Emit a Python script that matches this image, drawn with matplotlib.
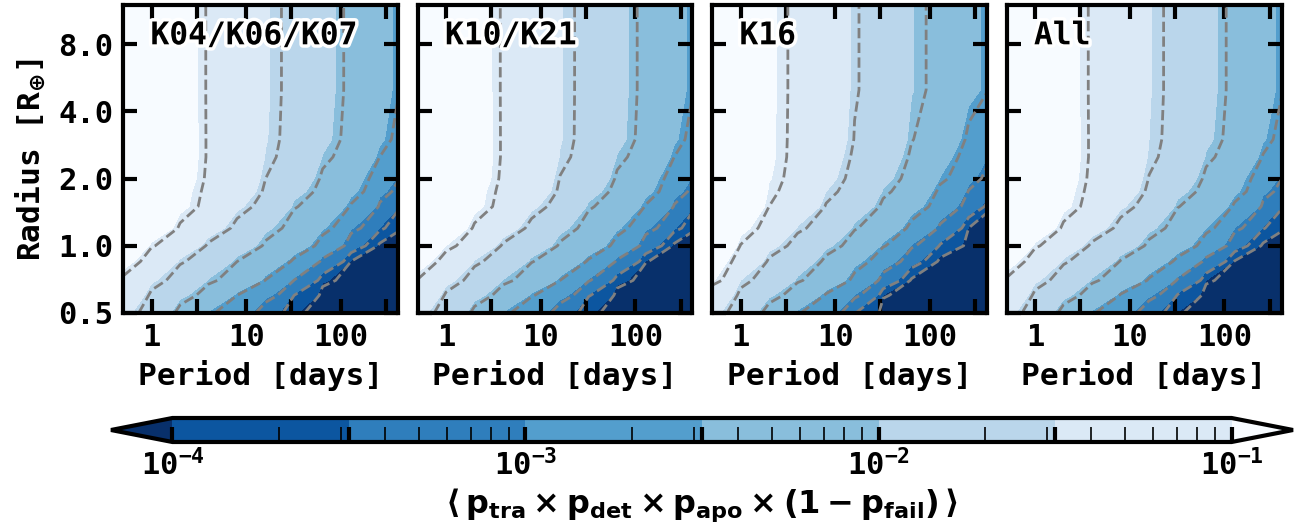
import numpy as np
import matplotlib
matplotlib.use('Agg')
import matplotlib.pyplot as plt
import matplotlib.patheffects as pe
from matplotlib.colors import LogNorm, ListedColormap
from matplotlib.ticker import FixedLocator, FixedFormatter, LogLocator, NullLocator, NullFormatter

plt.rcParams['font.family'] = ['DejaVu Sans Mono']
plt.rcParams['font.weight'] = 'bold'
plt.rcParams['axes.labelweight'] = 'bold'
plt.rcParams['axes.linewidth'] = 3

# ---------------------------
#   data (log10 of the mean detection probability)
# ---------------------------
periods = [0.5, 1, 2, 4, 8, 16, 32, 64, 128, 256, 500]        # days
radii = [0.5, 0.6, 0.7, 0.85, 1.0, 1.2, 1.5, 1.75, 2.0, 2.5, 3.0, 5.0, 12.0]  # R_earth

grid_k04 = [
    [-1.43, -1.82, -2.19, -2.53, -2.86, -3.35, -3.97, -4.50, -4.80, -5.00, -5.20],
    [-1.31, -1.63, -1.95, -2.25, -2.57, -2.94, -3.57, -4.30, -4.60, -4.90, -5.00],
    [-1.12, -1.47, -1.75, -2.02, -2.28, -2.58, -3.08, -3.95, -4.40, -4.70, -5.00],
    [-0.92, -1.27, -1.54, -1.81, -2.07, -2.32, -2.64, -3.20, -4.10, -4.50, -4.80],
    [-0.75, -1.05, -1.34, -1.62, -1.87, -2.12, -2.36, -2.74, -3.37, -4.30, -4.60],
    [-0.55, -0.83, -1.11, -1.39, -1.67, -1.96, -2.22, -2.48, -2.98, -3.51, -4.40],
    [-0.50, -0.70, -0.95, -1.20, -1.46, -1.75, -2.05, -2.30, -2.60, -3.13, -4.10],
    [-0.50, -0.72, -0.94, -1.15, -1.37, -1.62, -1.93, -2.19, -2.45, -2.93, -3.55],
    [-0.52, -0.69, -0.91, -1.12, -1.34, -1.57, -1.85, -2.12, -2.39, -2.81, -3.32],
    [-0.52, -0.70, -0.90, -1.10, -1.31, -1.51, -1.76, -2.01, -2.27, -2.57, -3.07],
    [-0.52, -0.71, -0.90, -1.10, -1.29, -1.49, -1.72, -1.95, -2.20, -2.46, -2.91],
    [-0.52, -0.72, -0.91, -1.10, -1.29, -1.48, -1.70, -1.93, -2.16, -2.42, -2.68],
    [-0.52, -0.72, -0.91, -1.10, -1.29, -1.48, -1.70, -1.93, -2.16, -2.42, -2.68],
]

grid_k10 = [
    [-1.42, -1.80, -2.17, -2.52, -2.85, -3.33, -3.95, -4.50, -4.80, -5.00, -5.20],
    [-1.28, -1.61, -1.93, -2.24, -2.55, -2.92, -3.55, -4.30, -4.60, -4.90, -5.00],
    [-1.08, -1.44, -1.73, -2.01, -2.27, -2.57, -3.05, -3.90, -4.40, -4.70, -5.00],
    [-0.90, -1.22, -1.52, -1.80, -2.06, -2.31, -2.62, -3.15, -4.05, -4.50, -4.80],
    [-0.72, -1.00, -1.32, -1.61, -1.86, -2.11, -2.35, -2.72, -3.33, -4.30, -4.60],
    [-0.55, -0.83, -1.11, -1.39, -1.67, -1.95, -2.21, -2.47, -2.96, -3.48, -4.40],
    [-0.50, -0.70, -0.95, -1.20, -1.46, -1.75, -2.04, -2.29, -2.59, -3.10, -4.10],
    [-0.50, -0.72, -0.94, -1.15, -1.37, -1.62, -1.92, -2.18, -2.44, -2.91, -3.52],
    [-0.52, -0.69, -0.91, -1.12, -1.34, -1.58, -1.84, -2.11, -2.38, -2.80, -3.30],
    [-0.52, -0.70, -0.90, -1.10, -1.31, -1.51, -1.76, -2.01, -2.27, -2.57, -3.07],
    [-0.52, -0.71, -0.90, -1.10, -1.29, -1.49, -1.72, -1.95, -2.20, -2.47, -2.92],
    [-0.52, -0.72, -0.91, -1.10, -1.29, -1.49, -1.71, -1.94, -2.17, -2.42, -2.69],
    [-0.52, -0.72, -0.91, -1.10, -1.29, -1.49, -1.71, -1.94, -2.17, -2.42, -2.69],
]

grid_k16 = [
    [-1.43, -1.86, -2.22, -2.55, -2.88, -3.56, -4.40, -4.70, -5.00, -5.20, -5.30],
    [-1.31, -1.64, -1.97, -2.28, -2.61, -3.01, -4.02, -4.50, -4.80, -5.00, -5.20],
    [-0.98, -1.50, -1.77, -2.04, -2.32, -2.68, -3.29, -4.26, -4.60, -4.90, -5.10],
    [-0.86, -1.28, -1.62, -1.87, -2.15, -2.44, -2.86, -3.41, -4.40, -4.70, -5.00],
    [-0.73, -1.08, -1.44, -1.71, -1.96, -2.24, -2.55, -3.03, -3.63, -4.40, -4.80],
    [-0.65, -0.94, -1.23, -1.52, -1.78, -2.05, -2.33, -2.68, -3.16, -4.08, -4.60],
    [-0.55, -0.81, -1.07, -1.33, -1.59, -1.86, -2.13, -2.41, -2.80, -3.32, -4.30],
    [-0.53, -0.77, -1.02, -1.26, -1.50, -1.76, -2.02, -2.31, -2.65, -3.09, -3.82],
    [-0.53, -0.76, -0.99, -1.21, -1.44, -1.69, -1.94, -2.22, -2.51, -2.93, -3.50],
    [-0.55, -0.76, -0.97, -1.18, -1.40, -1.62, -1.87, -2.12, -2.40, -2.78, -3.22],
    [-0.58, -0.78, -0.97, -1.17, -1.37, -1.58, -1.82, -2.06, -2.32, -2.64, -3.12],
    [-0.59, -0.78, -0.97, -1.16, -1.35, -1.55, -1.77, -1.99, -2.21, -2.43, -2.67],
    [-0.59, -0.78, -0.97, -1.16, -1.35, -1.55, -1.77, -1.99, -2.21, -2.43, -2.67],
]

grid_all = [
    [-1.43, -1.83, -2.20, -2.55, -2.89, -3.40, -4.02, -4.55, -4.85, -5.05, -5.25],
    [-1.30, -1.63, -1.95, -2.26, -2.60, -2.97, -3.62, -4.35, -4.65, -4.95, -5.05],
    [-1.10, -1.47, -1.75, -2.03, -2.31, -2.61, -3.12, -4.00, -4.45, -4.75, -5.05],
    [-0.91, -1.26, -1.54, -1.82, -2.09, -2.34, -2.67, -3.24, -4.15, -4.55, -4.85],
    [-0.74, -1.04, -1.35, -1.63, -1.88, -2.14, -2.38, -2.77, -3.40, -4.30, -4.60],
    [-0.56, -0.84, -1.12, -1.40, -1.68, -1.96, -2.23, -2.50, -3.00, -3.55, -4.40],
    [-0.51, -0.71, -0.96, -1.21, -1.47, -1.76, -2.06, -2.31, -2.62, -3.16, -4.10],
    [-0.51, -0.72, -0.94, -1.16, -1.38, -1.63, -1.94, -2.20, -2.46, -2.95, -3.58],
    [-0.52, -0.70, -0.92, -1.13, -1.35, -1.58, -1.86, -2.13, -2.41, -2.83, -3.35],
    [-0.53, -0.71, -0.91, -1.11, -1.32, -1.52, -1.77, -2.02, -2.28, -2.59, -3.09],
    [-0.53, -0.72, -0.91, -1.11, -1.30, -1.50, -1.73, -1.96, -2.22, -2.48, -2.93],
    [-0.53, -0.73, -0.92, -1.11, -1.30, -1.49, -1.71, -1.94, -2.17, -2.42, -2.68],
    [-0.53, -0.73, -0.92, -1.11, -1.30, -1.49, -1.71, -1.94, -2.17, -2.42, -2.68],
]

panel_names = ['K04/K06/K07', 'K10/K21', 'K16', 'All']
panel_grids = [grid_k04, grid_k10, grid_k16, grid_all]

fill_exponents = [-4.0, -3.5, -3.0, -2.5, -2.0, -1.5, -1.0]
dash_exponents = [-4.07, -3.57, -3.07, -2.57, -2.07, -1.57, -1.07]

band_colors = ['#0c56a0', '#2f7ebc', '#539ecd', '#89bedc', '#bad6eb', '#dbe9f6']
under_color = '#08306b'
over_color = '#f7fbff'

xticks = [1, 3, 10, 30, 100, 300]
xticklabels = ['1', '', '10', '', '100', '']
yticks = [0.5, 1, 2, 4, 8]
yticklabels = ['0.5', '1.0', '2.0', '4.0', '8.0']

cbar_ticklabels = [r'$\mathdefault{10^{-4}}$', '', r'$\mathdefault{10^{-3}}$', '',
                   r'$\mathdefault{10^{-2}}$', '', r'$\mathdefault{10^{-1}}$']

# ---------------------------
#   figure
# ---------------------------
W, H = 1303, 529
fig = plt.figure(figsize=(W / 100, H / 100), dpi=100)

levels = 10.0 ** np.array(fill_exponents)
dash_levels = 10.0 ** np.array(dash_exponents)
norm = LogNorm(vmin=levels[0], vmax=levels[-1])
cmap = ListedColormap(band_colors)
cmap.set_under(under_color)
cmap.set_over(over_color)

P, R = np.meshgrid(periods, radii)
panel_left = [123, 417.5, 712, 1006.5]

for i, (name, grid) in enumerate(zip(panel_names, panel_grids)):
    ax = fig.add_axes([panel_left[i] / W, 1 - 313 / H, 275 / W, 308 / H])
    Z = 10.0 ** np.array(grid)
    cf = ax.contourf(P, R, Z, levels=levels, norm=norm, cmap=cmap, extend='both')
    ax.contour(P, R, Z, levels=dash_levels, colors='gray', linestyles='--', linewidths=2)

    ax.set_xscale('log')
    ax.set_yscale('log')
    ax.set_xlim(0.5, 400)
    ax.set_ylim(0.5, 12)

    ax.xaxis.set_major_locator(FixedLocator(xticks))
    ax.xaxis.set_major_formatter(FixedFormatter(xticklabels))
    ax.xaxis.set_minor_locator(NullLocator())
    ax.yaxis.set_major_locator(FixedLocator(yticks))
    ax.yaxis.set_major_formatter(FixedFormatter(yticklabels))
    ax.yaxis.set_minor_locator(NullLocator())
    ax.tick_params(which='major', direction='in', length=10, width=3,
                   top=True, right=True, labelsize=22, pad=7)
    if i > 0:
        ax.set_yticklabels([])
    else:
        ax.set_ylabel(r'Radius [R$_{\oplus}$]', fontsize=22.5, labelpad=8)
    ax.set_xlabel('Period [days]', fontsize=22.5, labelpad=6)

    ax.text(0.1, 0.9, name, transform=ax.transAxes, fontsize=22.5, ha='left', va='center',
            fontweight='bold', path_effects=[pe.withStroke(linewidth=5, foreground='white')])

# colorbar
cax = fig.add_axes([111 / W, 1 - 442 / H, 1182 / W, 24 / H])
cbar = fig.colorbar(cf, cax=cax, orientation='horizontal', extendfrac=0.058)
cbar.outline.set_linewidth(3)
cbar.ax.xaxis.set_major_locator(FixedLocator(levels))
cbar.ax.xaxis.set_major_formatter(FixedFormatter(cbar_ticklabels))
cbar.ax.xaxis.set_minor_locator(LogLocator(base=10, subs=np.arange(2, 10)))
cbar.ax.xaxis.set_minor_formatter(NullFormatter())
cbar.ax.tick_params(which='major', direction='in', length=11, width=3, labelsize=22, pad=5)
cbar.ax.tick_params(which='minor', direction='in', length=11, width=1.2)
cbar.set_label(r'$\langle\,\mathbf{p_{tra}\times p_{det}\times p_{apo}\times(1-p_{fail})}\,\rangle$',
               fontsize=23, labelpad=4)

fig.savefig('out.png', dpi=100)
